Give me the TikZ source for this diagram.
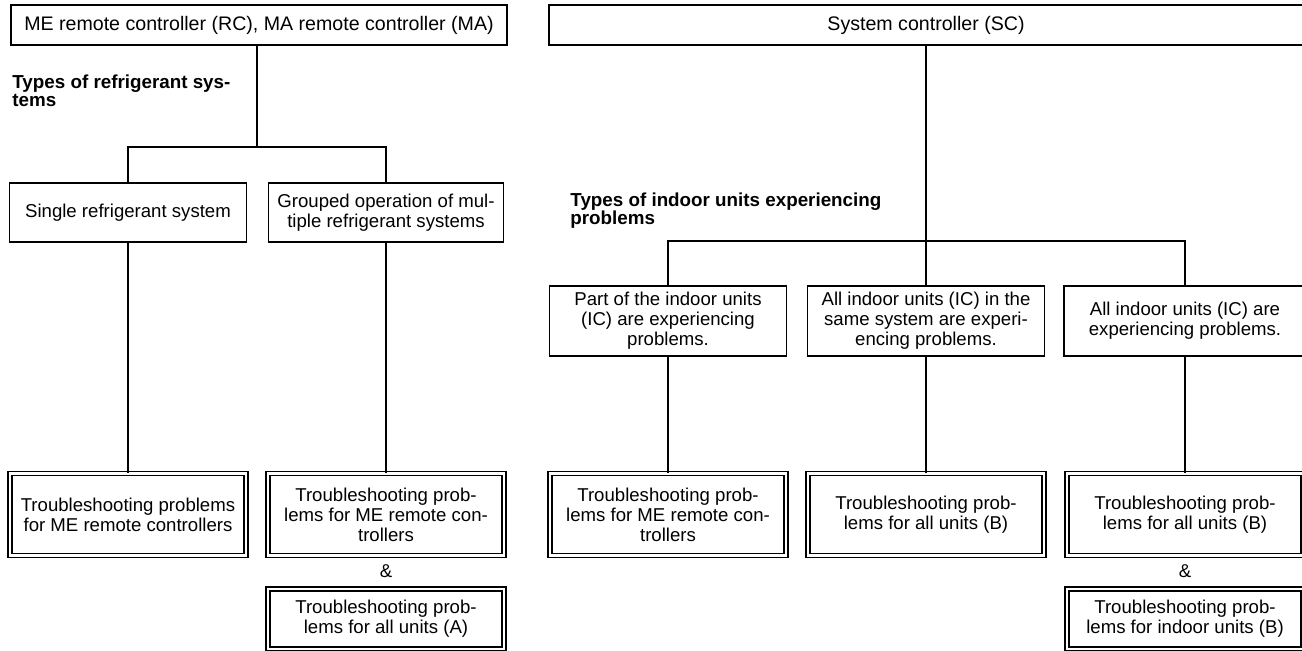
\documentclass[tikz,border=0pt]{standalone}
\usepackage{fontspec}
\setmainfont{Liberation Sans}
\begin{document}
\begin{tikzpicture}[x=0.5pt,y=-0.5pt,
  txt/.style={font=\fontsize{9.3}{10}\selectfont, align=center, inner sep=0pt},
  box/.style={txt, draw, line width=0.9pt},
  topbox/.style={box, font=\fontsize{9.8}{10}\selectfont},
  dbox/.style={txt, draw, double, double distance=1.1pt, line width=0.8pt,
     minimum width=118pt, minimum height=41pt},
  lbl/.style={font=\fontsize{9.4}{9}\selectfont\bfseries, align=left, inner sep=0pt, anchor=north west},
  amp/.style={font=\fontsize{9.3}{10}\selectfont, inner sep=0pt},
  conn/.style={line width=0.9pt}]
\clip (0,0) rectangle (1302,651);
\useasboundingbox (0,0) rectangle (1302,651);

% top boxes
\node[topbox, minimum width=248pt, minimum height=20pt] (rc) at (259,25)
  {ME remote controller (RC), MA remote controller (MA)};
\node[topbox, minimum width=377pt, minimum height=20pt] (sc) at (926,25)
  {System controller (SC)};

% left branch
\node[lbl] (ltitle) at (12,74) {Types of refrigerant sys-\\tems};
\coordinate (jl) at (257,147);
\node[box, minimum width=118.5pt, minimum height=29.5pt] (s1) at (128,212.5)
  {Single refrigerant system};
\node[box, minimum width=117.5pt, minimum height=29.5pt] (s2) at (386,212.5)
  {Grouped operation of mul-\\tiple refrigerant systems};
\node[dbox] (b1) at (128,514.5)
  {Troubleshooting problems\\for ME remote controllers};
\node[dbox] (b2) at (386,514.5)
  {Troubleshooting prob-\\lems for ME remote con-\\trollers};
\node[amp] (amp1) at (386,571) {\&};
\node[dbox, minimum height=30pt] (b3) at (386,619)
  {Troubleshooting prob-\\lems for all units (A)};

\draw[conn] (jl |- rc.south) -- (jl);
\draw[conn] (s1.north) -- (s1.north |- jl) -- (s2.north |- jl) -- (s2.north);
\draw[conn] (s1.south) -- (b1.north);
\draw[conn] (s2.south) -- (b2.north);

% right branch
\node[lbl] (rtitle) at (570,192) {Types of indoor units experiencing\\problems};
\coordinate (jr) at (926,241);
\node[box, minimum width=118.5pt, minimum height=35pt] (r1) at (668,321)
  {Part of the indoor units\\(IC) are experiencing\\problems.};
\node[box, minimum width=118.5pt, minimum height=35pt] (r2) at (926,321)
  {All indoor units (IC) in the\\same system are experi-\\encing problems.};
\node[box, minimum width=121pt, minimum height=35pt] (r3) at (1185,321)
  {All indoor units (IC) are\\experiencing problems.};
\node[dbox] (rb1) at (668,514.5)
  {Troubleshooting prob-\\lems for ME remote con-\\trollers};
\node[dbox] (rb2) at (926,514.5)
  {Troubleshooting prob-\\lems for all units (B)};
\node[dbox] (rb3) at (1185,514.5)
  {Troubleshooting prob-\\lems for all units (B)};
\node[amp] (amp2) at (1185,571) {\&};
\node[dbox, minimum height=30pt] (rb4) at (1185,619)
  {Troubleshooting prob-\\lems for indoor units (B)};

\draw[conn] (sc.south) -- (r2.north);
\draw[conn] (r1.north) -- (r1.north |- jr) -- (r3.north |- jr) -- (r3.north);
\draw[conn] (r1.south) -- (rb1.north);
\draw[conn] (r2.south) -- (rb2.north);
\draw[conn] (r3.south) -- (rb3.north);
\end{tikzpicture}
\end{document}
